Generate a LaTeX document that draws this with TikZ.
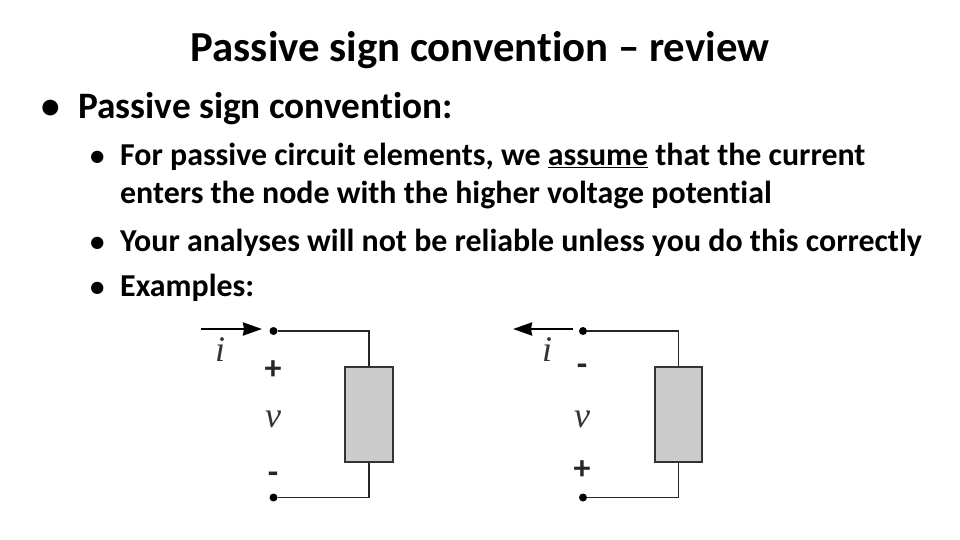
\documentclass[tikz,border=0pt]{standalone}
\usepackage{fontspec}
\setmainfont[RawFeature={-liga;-clig;-dlig}]{Carlito}
\newfontfamily\serifit[ItalicFont={Liberation Serif Italic}]{Liberation Serif}
\usetikzlibrary{arrows.meta}
\tikzset{
 txt/.style={anchor=base west,inner sep=0pt,font=\bfseries\fontsize{31.9}{36}\selectfont},
 hd/.style={anchor=base west,inner sep=0pt,font=\bfseries\fontsize{37.3}{40}\selectfont},
 bul/.style={anchor=base west,inner sep=0pt,font=\bfseries\fontsize{29}{30}\selectfont},
 wire/.style={draw=black!85,line width=1.9pt},
 term/.style={circle,fill=black,inner sep=0pt,minimum size=8pt},
 elem/.style={draw=black!80,fill=black!20,line width=1.8pt,minimum width=47.5pt,minimum height=95pt,inner sep=0pt},
 sym/.style={inner sep=0pt,text=black!85,font=\bfseries\fontsize{34}{36}\selectfont},
 var/.style={inner sep=0pt,text=black!80,font=\serifit\itshape\fontsize{36}{36}\selectfont},
 arr/.style={line width=2.5pt,-{Triangle[length=19pt,width=13pt,inset=1pt]},shorten >=-1pt}
}
\begin{document}
\begin{tikzpicture}[x=1pt,y=-1pt]
\useasboundingbox (0,0) rectangle (960,540);
\node[anchor=base,inner sep=0pt,font=\bfseries\fontsize{42.8}{46}\selectfont] (title) at (480,61.5) {Passive sign convention -- review};
\node[hd] (b0) at (41.5,118.5) {\textbullet};
\node[hd] (h) at (78,118.5) {Passive sign convention:};
\node[bul] (b1) at (89.8,166) {\textbullet};
\node[txt] (l1) at (120,166) {For passive circuit elements, we \underline{assume} that the current};
\node[txt] (l2) at (120,204) {enters the node with the higher voltage potential};
\node[bul] (b2) at (89.8,251) {\textbullet};
\node[txt] (l3) at (120,251) {Your analyses will not be reliable unless you do this correctly};
\node[bul] (b3) at (89.8,296.5) {\textbullet};
\node[txt] (l4) at (120,296.5) {Examples:};
% left
\node[term] (a1) at (273.5,331) {};
\node[term] (a2) at (273.5,497.5) {};
\node[elem] (e1) at (369,414.2) {};
\draw[wire] (a1) -| (e1.north);
\draw[wire] (a2) -| (e1.south);
\coordinate (as) at (201,329);\coordinate (ae) at (261,329);
\draw[arr] (as) -- (ae);
\node[var] (i1) at (220,350) {i};
\node[sym] (p1) at (273,370) {+};
\node[var] (v1) at (273,419) {v};
\node[sym] (m1) at (273,478) {-};
% right
\node[term] (b1t) at (583,331) {};
\node[term] (b2t) at (583,497.5) {};
\node[elem] (e2) at (678.5,414.2) {};
\draw[wire] (b1t) -| (e2.north);
\draw[wire] (b2t) -| (e2.south);
\coordinate (bs) at (573,329);\coordinate (be) at (514,329);
\draw[arr] (bs) -- (be);
\node[var] (i2) at (547,350) {i};
\node[sym] (m2) at (582,370) {-};
\node[var] (v2) at (582,419) {v};
\node[sym] (p2) at (582,470) {+};
\end{tikzpicture}
\end{document}
